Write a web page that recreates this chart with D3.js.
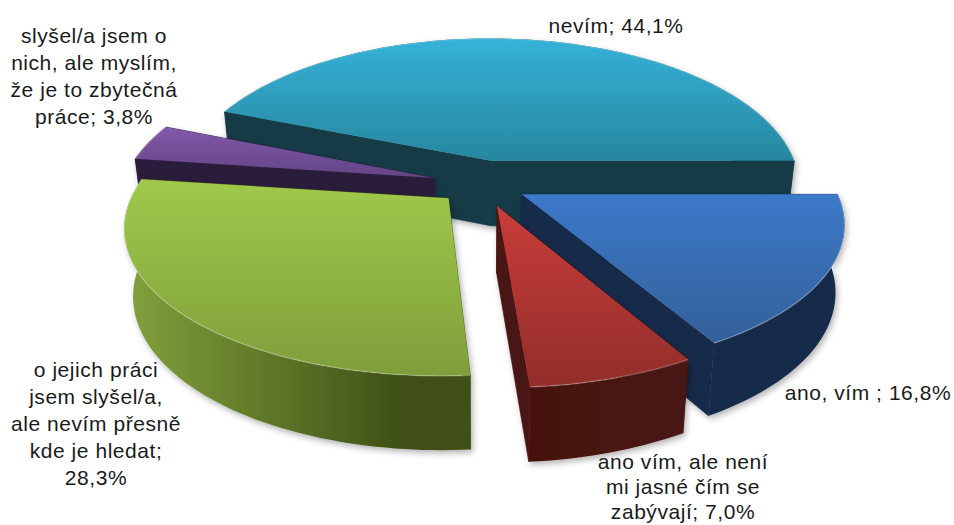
<!DOCTYPE html>
<html><head><meta charset="utf-8">
<script src="https://cdn.jsdelivr.net/npm/d3@7"></script>
<style>html,body{margin:0;background:#fff}svg{display:block}text{font-family:"Liberation Sans",sans-serif;font-size:21px;letter-spacing:.55px;fill:#1a1a1a}</style>
</head><body><svg id="c" width="954" height="525"></svg>
<script>
const categories=["ano, vím","ano vím, ale není mi jasné čím se zabývají","o jejich práci jsem slyšel/a, ale nevím přesně kde je hledat","slyšel/a jsem o nich, ale myslím, že je to zbytečná práce","nevím"];
const values=[16.8,7.0,28.3,3.8,44.1];
const valueLabels=["16,8%","7,0%","28,3%","3,8%","44,1%"];
const labelLines=[["ano, vím ; 16,8%"],["ano vím, ale není","mi jasné čím se","zabývají; 7,0%"],["o jejich práci","jsem slyšel/a,","ale nevím přesně","kde je hledat;","28,3%"],["slyšel/a jsem o","nich, ale myslím,","že je to zbytečná","práce; 3,8%"],["nevím; 44,1%"]];
const labelAnchor=[[868,400,0],[683,469,25],[96,377,27],[94,43,27],[616,33,0]];
const paint=[["#3c79c9","#33609a","#15294a","#15294a"],["#c93d3a","#922d2a","#451110","#4a1312"],["#a0c94b","#7f9e3b","#82a23c","#3f5016"],["#8259aa","#644485","#2b1b3a","#2b1b3a"],["#36b2d8","#26879f","#133b47","#133b47"]];
const drawOrder=[4,3,2,0,1];
const explode=[.145,.16,.145,.16,.16];

const cx=482,cy=184,R=312,Ry=140,RyBack=152,P=.18,TAPER=.975;
const project=(u,v)=>{const s=1/(1-P*v);return [cx+R*u*s,cy+(v<0?RyBack:Ry)*v*s,v*s];};
const wall=vs=>66+6*vs;

const pie=d3.pie().sort(null).value(d=>d).startAngle(Math.PI/2).endAngle(Math.PI/2+2*Math.PI);
const arcs=pie(values);
const svg=d3.select("#c");
const defs=svg.append("defs");
const f=defs.append("filter").attr("id","sh").attr("x","-10%").attr("y","-10%").attr("width","125%").attr("height","125%");
f.append("feDropShadow").attr("dx",2).attr("dy",3).attr("stdDeviation",3).attr("flood-color","#000").attr("flood-opacity",.3);
const line=d3.line().curve(d3.curveLinear);

arcs.forEach((a,i)=>{a.idx=i;
  a.t0=a.startAngle-Math.PI/2;a.t1=a.endAngle-Math.PI/2;
  const b=(a.t0+a.t1)/2;a.ou=explode[i]*Math.cos(b);a.ov=explode[i]*Math.sin(b);
  const n=Math.max(8,Math.round((a.t1-a.t0)*40));
  a.rim=d3.range(n+1).map(k=>{const t=a.t0+(a.t1-a.t0)*k/n;return project(a.ou+Math.cos(t),a.ov+Math.sin(t));});
  a.apex=project(a.ou,a.ov);
  const top=[a.apex,...a.rim];
  const xs=top.map(p=>p[0]),ys=top.map(p=>p[1]);
  const g=defs.append("linearGradient").attr("id","t"+i).attr("gradientUnits","userSpaceOnUse").attr("x1",0).attr("x2",0).attr("y1",d3.min(ys)).attr("y2",d3.max(ys));
  g.append("stop").attr("offset",0).attr("stop-color",paint[i][0]);
  g.append("stop").attr("offset",1).attr("stop-color",paint[i][1]);
  const w=defs.append("linearGradient").attr("id","w"+i).attr("gradientUnits","userSpaceOnUse").attr("y1",0).attr("y2",0).attr("x1",d3.min(xs)).attr("x2",d3.max(xs));
  w.append("stop").attr("offset",0).attr("stop-color",paint[i][2]);
  w.append("stop").attr("offset",.8).attr("stop-color",paint[i][3]);
  w.append("stop").attr("offset",1).attr("stop-color",paint[i][3]);
});

const lower=p=>[cx+(p[0]-cx)*TAPER,p[1]+wall(p[2])];
const gs=svg.selectAll("g.slice").data(drawOrder.map(i=>arcs[i])).join("g").attr("class","slice");
gs.each(function(a){
  const g=d3.select(this),i=a.idx;
  const p2=p=>[p[0],p[1]];
  const outline=[a.apex,...a.rim];
  const body=g.append("g").attr("filter","url(#sh)");
  [a.rim[0],a.rim[a.rim.length-1]].forEach(r=>{
    body.append("path").attr("d",line([p2(a.apex),p2(r),lower(r),lower(a.apex)])+"Z").attr("fill",paint[i][3]).attr("stroke",paint[i][3]).attr("stroke-width",.6);
  });
  body.append("path").attr("d",line([...a.rim.map(p2),...a.rim.slice().reverse().map(lower)])+"Z").attr("fill",`url(#w${i})`);
  g.append("path").attr("d",line(outline.map(p2))+"Z").attr("fill",`url(#t${i})`);
  g.append("path").attr("d",line(a.rim.map(p2))).attr("fill","none").attr("stroke","#fff").attr("stroke-opacity",.22).attr("stroke-width",1.5);
});

labelLines.forEach((ls,i)=>{
  const [x,y,lh]=labelAnchor[i];
  const t=svg.append("text").attr("text-anchor","middle").attr("x",x).attr("y",y);
  ls.forEach((l,k)=>t.append("tspan").attr("x",x).attr("dy",k?lh:0).text(l));
});
</script></body></html>
